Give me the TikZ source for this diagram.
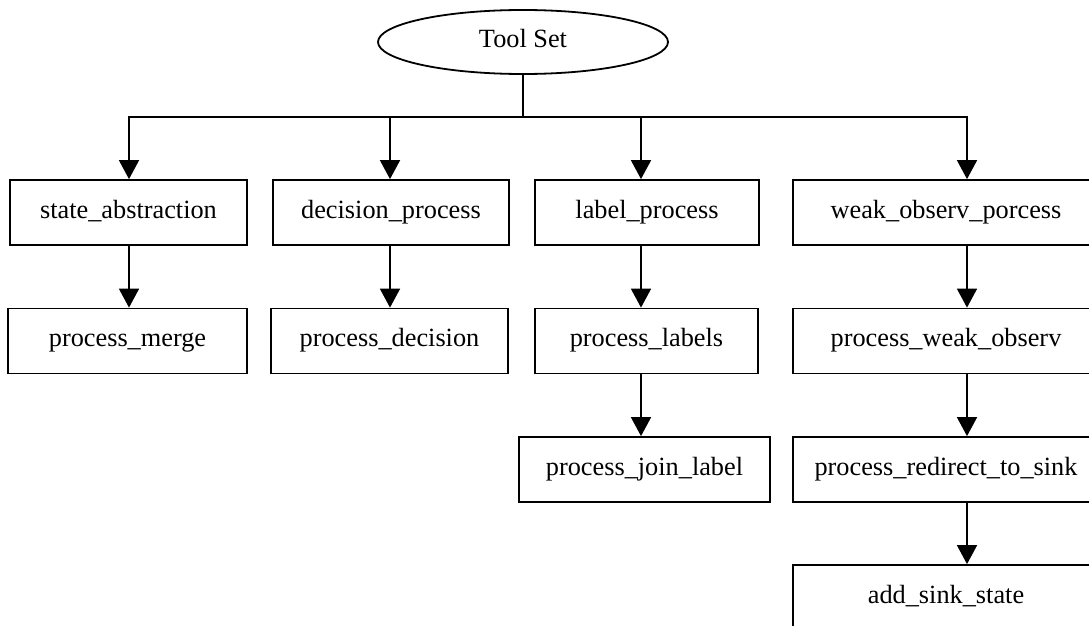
\documentclass[tikz,border=0pt]{standalone}
\usepackage{fontspec}
\setmainfont{Liberation Serif}
\usetikzlibrary{arrows.meta,shapes.geometric}
\begin{document}
\begin{tikzpicture}[x=1pt,y=-1pt,
  lbl/.style={font=\fontsize{26.3}{30}\selectfont, text height=18pt, text depth=7pt},
  box/.style={draw, line width=1.8pt, minimum height=65pt, inner sep=0pt, lbl},
  conn/.style={line width=1.8pt},
  arr/.style={conn, -{Triangle[length=19pt,width=20pt]}}]
\clip (0,0) rectangle (1089,626);
\fill[white] (0,0) rectangle (1089,626);
% root
\node[ellipse, draw, line width=1.8pt, minimum width=290pt, minimum height=64pt, inner sep=0pt, lbl] (ts) at (523,42) {Tool Set};
% row 1
\node[box, minimum width=237pt] (sa) at (128.5,212.5) {state\_abstraction};
\node[box, minimum width=236pt] (dp) at (391,212.5) {decision\_process};
\node[box, minimum width=224pt] (lp) at (647,212.5) {label\_process};
\node[box, minimum width=306pt] (wo) at (946,212.5) {weak\_observ\_porcess};
% row 2
\node[box, minimum width=239pt] (pm) at (127.5,341) {process\_merge\hspace{38pt}};
\node[box, minimum width=237pt] (pd) at (389.5,341) {process\_decision};
\node[box, minimum width=223pt] (pl) at (646.5,341) {process\_labels};
\node[box, minimum width=306pt] (pw) at (946,341) {process\_weak\_observ};
% row 3
\node[box, minimum width=251pt] (pj) at (644.5,469.5) {process\_join\_label\hspace{9pt}};
\node[box, minimum width=306pt] (pr) at (946,469.5) {process\_redirect\_to\_sink};
% row 4
\node[box, minimum width=306pt] (as) at (946,597.5) {add\_sink\_state};
% connector columns
\coordinate (bus) at (523,117);
\coordinate (c1) at (129,117);
\coordinate (c2) at (390,117);
\coordinate (c3) at (641,117);
\coordinate (c4) at (967,117);
\draw[conn] (ts.south) -- (bus);
\draw[arr] (bus) -| (c1 |- sa.north);
\draw[arr] (bus) -| (c4 |- wo.north);
\draw[arr] (c2) -- (c2 |- dp.north);
\draw[arr] (c3) -- (c3 |- lp.north);
% vertical chains
\draw[arr] (sa.south -| c1) -- (pm.north -| c1);
\draw[arr] (dp.south -| c2) -- (pd.north -| c2);
\draw[arr] (lp.south -| c3) -- (pl.north -| c3);
\draw[arr] (pl.south -| c3) -- (pj.north -| c3);
\draw[arr] (wo.south -| c4) -- (pw.north -| c4);
\draw[arr] (pw.south -| c4) -- (pr.north -| c4);
\draw[arr] (pr.south -| c4) -- (as.north -| c4);
\end{tikzpicture}
\end{document}
